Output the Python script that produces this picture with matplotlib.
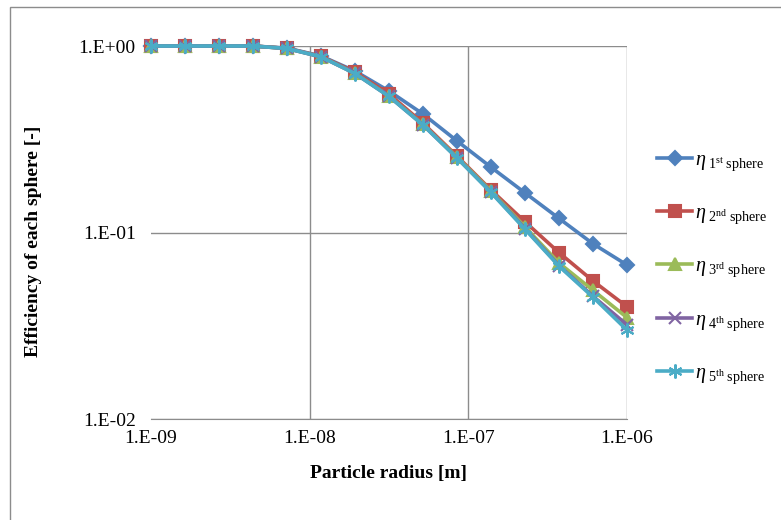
import numpy as np
import matplotlib.pyplot as plt
from matplotlib.patches import Rectangle

plt.rcParams['font.family'] = ['Liberation Serif', 'DejaVu Serif']
plt.rcParams['mathtext.fontset'] = 'custom'
plt.rcParams['mathtext.rm'] = 'Liberation Serif'
plt.rcParams['mathtext.it'] = 'Liberation Serif:italic'

radius = [1.0e-9, 1.64e-9, 2.68e-9, 4.39e-9, 7.20e-9, 1.18e-8, 1.93e-8, 3.16e-8,
          5.18e-8, 8.48e-8, 1.39e-7, 2.28e-7, 3.73e-7, 6.11e-7, 1.0e-6]

eta1 = [1.0, 1.0, 1.0, 1.0, 0.975, 0.884, 0.734, 0.574, 0.432, 0.310, 0.224, 0.163, 0.119, 0.087, 0.067]
eta2 = [1.0, 1.0, 1.0, 1.0, 0.972, 0.880, 0.725, 0.553, 0.386, 0.257, 0.169, 0.114, 0.078, 0.055, 0.040]
eta3 = [1.0, 1.0, 1.0, 1.0, 0.970, 0.876, 0.715, 0.540, 0.380, 0.254, 0.167, 0.107, 0.0686, 0.049, 0.035]
eta4 = [1.0, 1.0, 1.0, 1.0, 0.970, 0.875, 0.713, 0.538, 0.378, 0.252, 0.165, 0.105, 0.0665, 0.0455, 0.032]
eta5 = [1.0, 1.0, 1.0, 1.0, 0.970, 0.875, 0.712, 0.537, 0.377, 0.251, 0.164, 0.104, 0.066, 0.045, 0.030]

labels = [r'$\eta_{\ \mathrm{1^{st}\ sphere}}$', r'$\eta_{\ \mathrm{2^{nd}\ sphere}}$',
          r'$\eta_{\ \mathrm{3^{rd}\ sphere}}$', r'$\eta_{\ \mathrm{4^{th}\ sphere}}$',
          r'$\eta_{\ \mathrm{5^{th}\ sphere}}$']
colors = ['#4F81BD', '#C0504D', '#9BBB59', '#8064A2', '#4BACC6']
markers = ['D', 's', '^', 'x', (6, 2, 0)]
msizes = [7, 9, 9, 9, 10]

fig = plt.figure(figsize=(7.81, 5.2), dpi=100)
ax = fig.add_axes([0.1933, 0.1942, 0.6095, 0.7173])

for y, lab, c, m, ms in zip([eta1, eta2, eta3, eta4, eta5], labels, colors, markers, msizes):
    ax.plot(radius, y, color=c, lw=2.6, marker=m, markersize=ms, markeredgewidth=1.5,
            markerfacecolor=c, markeredgecolor=c, label=lab, clip_on=False, zorder=3)

ax.set_xscale('log')
ax.set_yscale('log')
ax.set_xlim(1e-9, 1e-6)
ax.set_ylim(1e-2, 1e0)
ax.set_xticks([1e-9, 1e-8, 1e-7, 1e-6])
ax.set_xticklabels(['1.E-09', '1.E-08', '1.E-07', '1.E-06'])
ax.set_yticks([1e-2, 1e-1, 1e0])
ax.set_yticklabels(['1.E-02', '1.E-01', '1.E+00'])
ax.minorticks_off()
ax.tick_params(length=0, labelsize=14)
ax.tick_params(axis='y', pad=11)
ax.tick_params(axis='x', pad=8)
ax.grid(True, color='#8c8c8c', lw=1)
ax.get_xgridlines()[0].set_visible(False)
ax.set_axisbelow(True)
for s in ['top', 'right', 'left']:
    ax.spines[s].set_visible(False)
ax.spines['bottom'].set_color('#8c8c8c')

ax.set_xlabel('Particle radius [m]', fontsize=14, fontweight='bold', labelpad=13)
ax.set_ylabel('Efficiency of each sphere [-]', fontsize=14, fontweight='bold', labelpad=26)
ax.yaxis.label.set_y(0.476)

fig.legend(loc='upper left', bbox_to_anchor=(0.818, 0.745), frameon=False,
           fontsize=14.5, labelspacing=1.55, handlelength=1.75, handletextpad=0.15)

fig.patches.append(Rectangle((10 / 781, -0.1), 1.2, 1.0865, transform=fig.transFigure,
                             fill=False, edgecolor='#8c8c8c', lw=1))

fig.savefig('out.png', dpi=100)
